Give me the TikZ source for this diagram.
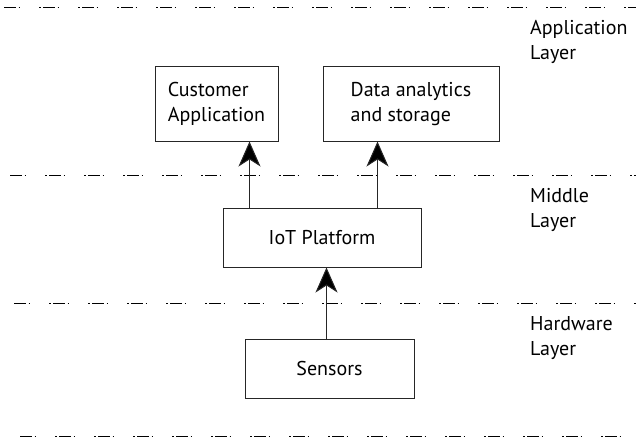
\documentclass[tikz,border=0pt]{standalone}
\usepackage{fontspec}
\setmainfont{PT Sans}
\usetikzlibrary{arrows.meta,calc}

\tikzset{
  box/.style={draw=black!85, line width=1pt, rectangle, inner sep=0pt,
              font=\fontsize{20}{25}\selectfont},
  layertext/.style={anchor=west, align=left, inner sep=0pt,
              font=\fontsize{20}{25}\selectfont},
  divider/.style={draw=black, line width=1.5pt,
              dash pattern=on 12pt off 2.5pt on 1.5pt off 19pt on 1.5pt off 2.5pt},
  uparrow/.style={draw=black!85, line width=1pt,
              -{Stealth[length=25pt,width=22pt,inset=7pt,fill=black]}},
}

\begin{document}
\begin{tikzpicture}[x=1pt,y=-1pt]
  \useasboundingbox (0,0) rectangle (636,441);

  % layer dividers
  \coordinate (d1s) at (4,7.5);    \coordinate (d1e) at (636,7.5);
  \coordinate (d2s) at (10,175.5); \coordinate (d2e) at (636,175.5);
  \coordinate (d3s) at (14,303.5); \coordinate (d3e) at (636,303.5);
  \coordinate (d4s) at (20,436.5); \coordinate (d4e) at (636,436.5);
  \draw[divider] (d1s) -- (d1e);
  \draw[divider] (d2s) -- (d2e);
  \draw[divider] (d3s) -- (d3e);
  \draw[divider] (d4s) -- (d4e);

  % layer labels
  \node[layertext] (lapp) at (530,42) {Application\\Layer};
  \node[layertext] (lmid) at (530,210) {Middle\\Layer};
  \node[layertext] (lhw)  at (530,338) {Hardware\\Layer};

  % components
  \node[box, minimum width=123pt, minimum height=74pt, align=left]
       (cust) at (216.5,104) {Customer\\Application};
  \node[box, minimum width=176pt, minimum height=74pt, align=left]
       (data) at (411,104) {Data analytics\\and storage};
  \node[box, minimum width=198pt, minimum height=59pt]
       (iot) at (322,237.5) {IoT Platform};
  \node[box, minimum width=169pt, minimum height=59pt]
       (sens) at (329.5,368.5) {Sensors};

  % data flow
  \draw[uparrow] ($(iot.north west)+(27,0)$) coordinate (s1) -- (s1 |- cust.south);
  \draw[uparrow] ($(iot.north west)+(155,0)$) coordinate (s2) -- (s2 |- data.south);
  \draw[uparrow] ($(sens.north west)+(82,0)$) coordinate (s3) -- (s3 |- iot.south);
\end{tikzpicture}
\end{document}
